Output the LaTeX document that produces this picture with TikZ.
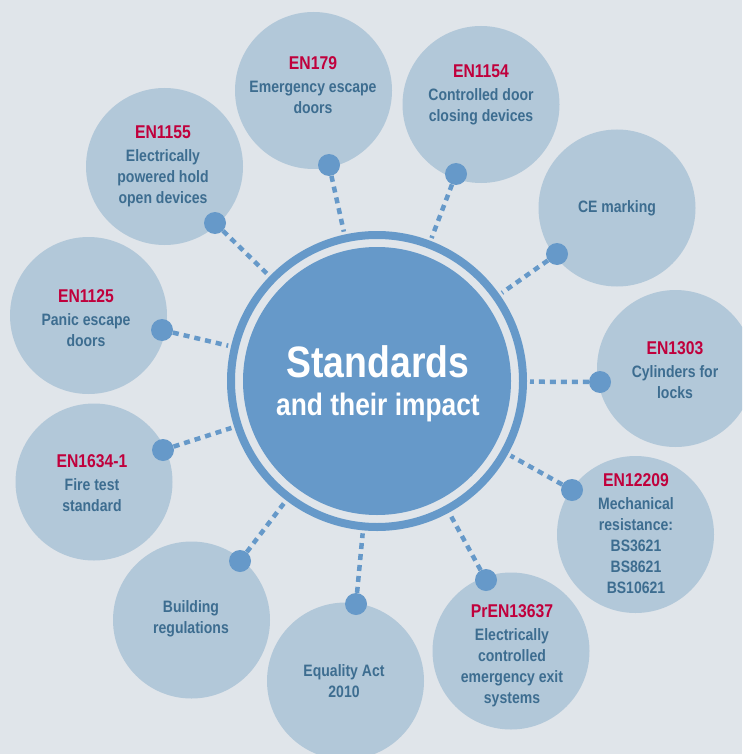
\documentclass[tikz,border=0pt]{standalone}
\usepackage{fontspec}
\setmainfont{Liberation Sans}[FakeStretch=0.85]
\usepackage{tikz}
\usepackage{xcolor}

\definecolor{bgcol}{HTML}{E0E5EA}
\definecolor{satfill}{HTML}{B2C8D9}
\definecolor{hubblue}{HTML}{6699C9}
\definecolor{stdred}{HTML}{C0003C}
\definecolor{txtblue}{HTML}{3D6D90}

\newcommand{\stdcode}[1]{{\color{stdred}\fontsize{18.5}{21}\selectfont #1}\\[2pt]}

\begin{document}
\begin{tikzpicture}[x=1pt, y=-1pt,
	sat/.style={circle, fill=satfill, minimum size=157pt, inner sep=0pt},
	sattext/.style={align=center, text=txtblue, inner sep=0pt, font=\fontsize{16.5}{21}\selectfont\bfseries},
	dot/.style={circle, fill=hubblue, minimum size=22pt, inner sep=0pt},
	link/.style={draw=hubblue, line width=4.5pt, dash pattern=on 6pt off 5pt}]
						\useasboundingbox (0, 0) rectangle (742, 754);
						\clip (0, 0) rectangle (742, 754);
						\fill[bgcol] (0, 0) rectangle (742, 754);
						% centre
						\node[circle, draw=hubblue, line width=8pt, minimum size=292pt, inner sep=0pt, outer sep=7pt] (hub) at (377, 381) {};
						\node[circle, fill=hubblue, minimum size=268pt, inner sep=0pt] (core) at (hub) {};
						\node[anchor=base, text=white, font=\fontsize{44}{44}\selectfont\bfseries] (hubtitle) at (378, 377) {Standards};
						\node[anchor=base, text=white, font=\fontsize{31}{31}\selectfont\bfseries] (hubsub) at (378, 415) {and their impact};
						% satellites
						\node[sat] (en179) at (313.5, 90.5) {};
						\node[sat] (en1154) at (481, 104.5) {};
						\node[sat] (ce) at (617, 208) {};
						\node[sat] (en1303) at (675.5, 368.5) {};
						\node[sat] (en12209) at (635.5, 534.5) {};
						\node[sat] (pren13637) at (511, 651) {};
						\node[sat] (equality) at (345.5, 681) {};
						\node[sat] (building) at (191.5, 620) {};
						\node[sat] (en1634) at (94, 482) {};
						\node[sat] (en1125) at (88.5, 315.5) {};
						\node[sat] (en1155) at (164.5, 166.5) {};
						% texts
						\node[sattext] (en179-txt) at (313, 85) {\stdcode{EN179}Emergency escape\\doors};
						\node[sattext] (en1154-txt) at (481, 95) {\stdcode{EN1154}Controlled door\\closing devices};
						\node[sattext] (ce-txt) at (617, 208) {CE marking};
						\node[sattext] (en1303-txt) at (675, 370) {\stdcode{EN1303}Cylinders for\\locks};
						\node[sattext] (en12209-txt) at (636, 534) {\stdcode{EN12209}Mechanical\\resistance:\\BS3621\\BS8621\\BS10621};
						\node[sattext] (pren13637-txt) at (512, 656) {\stdcode{PrEN13637}Electrically\\controlled\\emergency exit\\systems};
						\node[sattext] (equality-txt) at (344, 681) {Equality Act\\2010};
						\node[sattext] (building-txt) at (191, 619) {Building\\regulations};
						\node[sattext] (en1634-txt) at (92, 483.5) {\stdcode{EN1634-1}Fire test\\standard};
						\node[sattext] (en1125-txt) at (86, 318.5) {\stdcode{EN1125}Panic escape\\doors};
						\node[sattext] (en1155-txt) at (163, 166) {\stdcode{EN1155}Electrically\\powered hold\\open devices};
						% dots
						\node[dot] (d179) at (329, 165) {};
						\node[dot] (d1154) at (456, 174) {};
						\node[dot] (dce) at (557, 254) {};
						\node[dot] (d1303) at (600, 382) {};
						\node[dot] (d12209) at (572, 490) {};
						\node[dot] (d13637) at (486, 580) {};
						\node[dot] (dequality) at (356, 604) {};
						\node[dot] (dbuilding) at (240, 561) {};
						\node[dot] (d1634) at (163, 450) {};
						\node[dot] (d1125) at (162, 330) {};
						\node[dot] (d1155) at (215, 223) {};
						% links
						\foreach \d in {d179, d1154, dce, d1303, d12209, d13637, dequality, dbuilding, d1634, d1125, d1155}
							\draw[link] (\d) -- (hub);
					\end{tikzpicture}
\end{document}
